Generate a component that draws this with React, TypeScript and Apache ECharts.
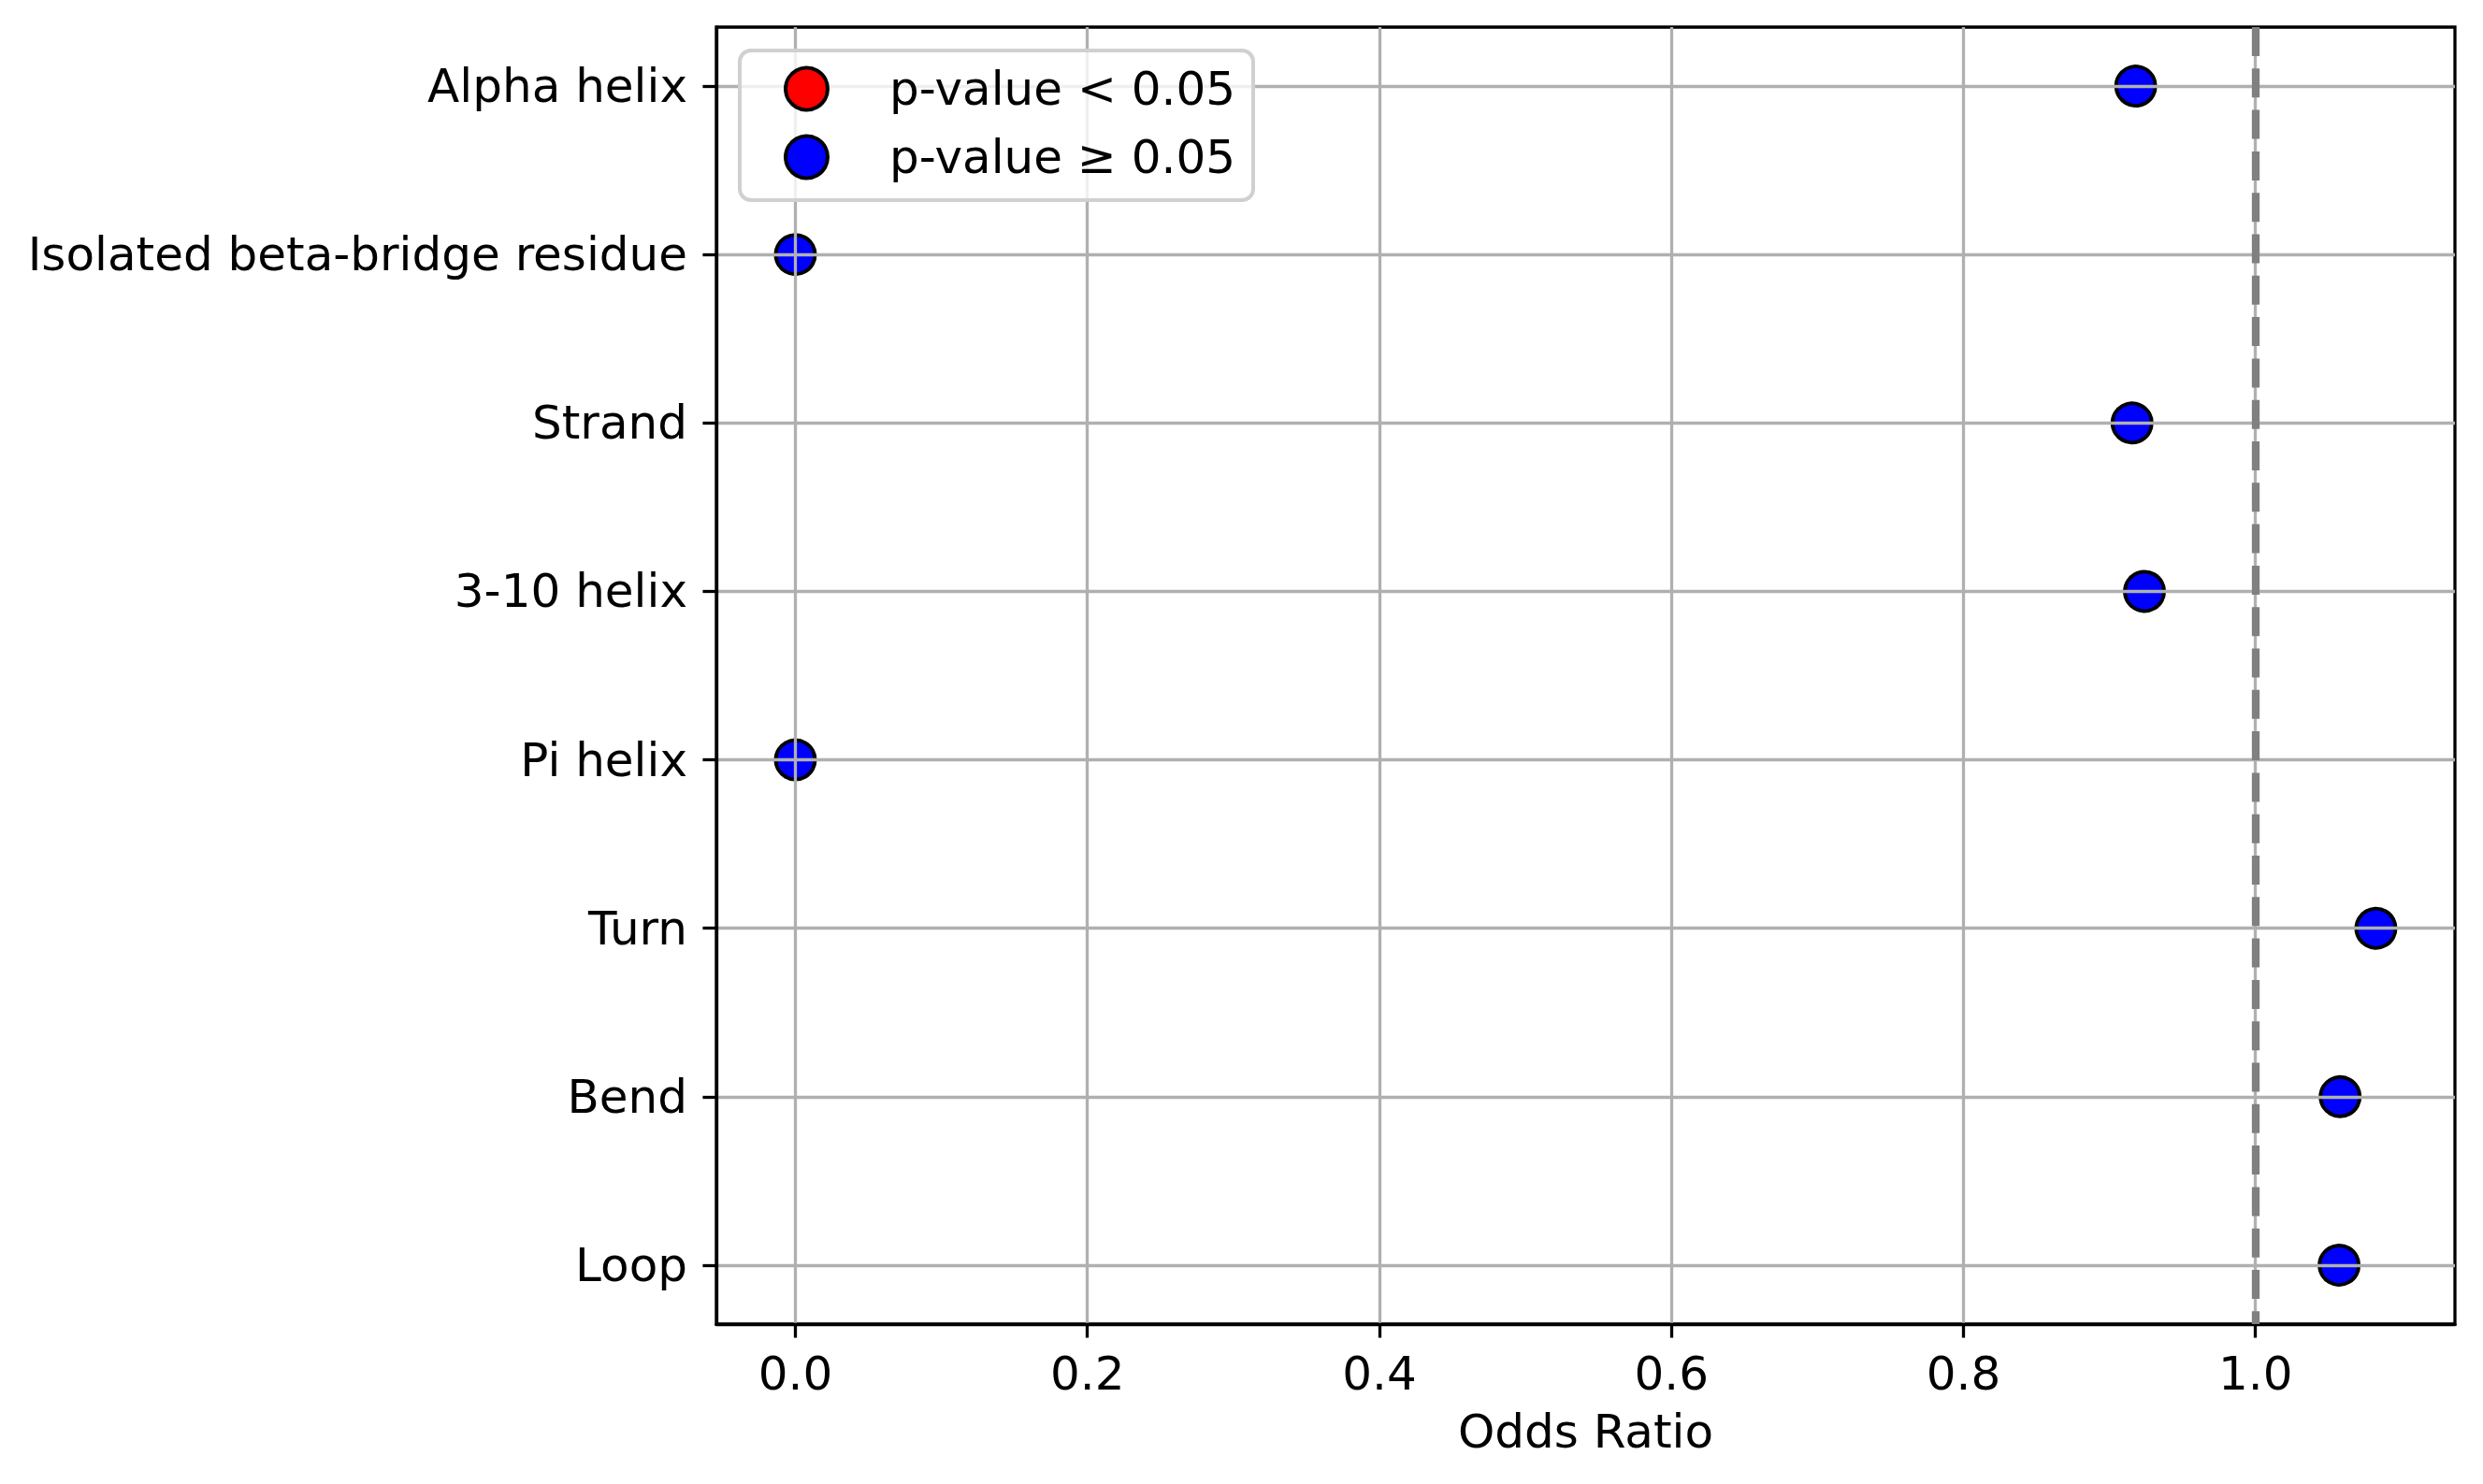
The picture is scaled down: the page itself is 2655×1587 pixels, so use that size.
import React, { useEffect, useRef } from "react";
import * as echarts from "echarts";

// ---- data ----
const categories = [
  "Alpha helix",
  "Isolated beta-bridge residue",
  "Strand",
  "3-10 helix",
  "Pi helix",
  "Turn",
  "Bend",
  "Loop",
];
const oddsRatios = [0.918, 0.0, 0.9155, 0.924, 0.0, 1.0825, 1.058, 1.0573];
const significant = [false, false, false, false, false, false, false, false];
const xTicks = [0, 0.2, 0.4, 0.6, 0.8, 1.0];
const legendLabels = ["p-value < 0.05", "p-value \u2265 0.05"];
const referenceOR = 1.0;
const xAxisTitle = "Odds Ratio";

const FONT = "DejaVu Sans";

export default function App() {
  const ref = useRef<HTMLDivElement>(null);

  useEffect(() => {
    if (!ref.current) return;
    const chart = echarts.init(ref.current, null, { renderer: "svg" });

    const dMin = Math.min(...oddsRatios);
    const dMax = Math.max(...oddsRatios);
    const span = dMax - dMin;
    const xMin = dMin - 0.05 * span;
    const xMax = dMax + 0.05 * span;
    const yIdx = categories.map((_, i) => i);
    const yMargin = 0.05 * (categories.length - 1);

    const sigData: number[][] = [];
    const nsData: number[][] = [];
    oddsRatios.forEach((v, i) => {
      (significant[i] ? sigData : nsData).push([v, i]);
    });

    const option: any = {
      animation: false,
      backgroundColor: "#ffffff",
      textStyle: { fontFamily: FONT },
      grid: {
        left: 766,
        right: 30,
        top: 29,
        bottom: 171,
        show: true,
        borderColor: "#000000",
        borderWidth: 3.3,
        backgroundColor: "transparent",
        containLabel: false,
      },
      legend: {
        orient: "vertical",
        left: 791,
        top: 54,
        padding: [16, 19, 21, 47],
        itemWidth: 45,
        itemHeight: 45,
        itemGap: 23,
        icon: "circle",
        backgroundColor: "rgba(255,255,255,0.8)",
        borderColor: "#d0d0d0",
        borderWidth: 4,
        borderRadius: 12,
        selectedMode: false,
        itemStyle: { borderColor: "#000000", borderWidth: 4 },
        textStyle: {
          fontSize: 50,
          fontFamily: FONT,
          color: "#000000",
          rich: { gap: { width: 61 } },
        },
        formatter: (name: string) => `{gap|}${name}`,
        data: legendLabels,
      },
      xAxis: {
        type: "value",
        min: xMin,
        max: xMax,
        name: xAxisTitle,
        nameLocation: "middle",
        nameGap: 90,
        nameTextStyle: { fontSize: 50, fontFamily: FONT, color: "#000000" },
        axisLine: { show: true, onZero: false, lineStyle: { color: "#000000", width: 3.3 } },
        axisTick: {
          show: true,
          length: 14.6,
          inside: false,
          customValues: xTicks,
          lineStyle: { color: "#000000", width: 3.3 },
        },
        axisLabel: {
          show: true,
          customValues: xTicks,
          margin: 28,
          fontSize: 50,
          fontFamily: FONT,
          color: "#000000",
          formatter: (v: number) => v.toFixed(1),
        },
        splitLine: { show: true, lineStyle: { color: "#b0b0b0", width: 3.3 } },
      },
      yAxis: {
        type: "value",
        inverse: true,
        min: -yMargin,
        max: categories.length - 1 + yMargin,
        axisLine: { show: true, onZero: false, lineStyle: { color: "#000000", width: 3.3 } },
        axisTick: {
          show: true,
          length: 14.6,
          customValues: yIdx,
          lineStyle: { color: "#000000", width: 3.3 },
        },
        axisLabel: {
          show: true,
          customValues: yIdx,
          margin: 31,
          fontSize: 50,
          fontFamily: FONT,
          color: "#000000",
          formatter: (v: number) => categories[Math.round(v)] ?? "",
        },
        splitLine: { show: true, lineStyle: { color: "#b0b0b0", width: 3.3 } },
      },
      series: [
        {
          name: legendLabels[0],
          type: "scatter",
          z: -1,
          symbol: "circle",
          symbolSize: 42,
          itemStyle: { color: "#ff0000", borderColor: "#000000", borderWidth: 4, opacity: 1 },
          data: sigData,
        },
        {
          name: legendLabels[1],
          type: "scatter",
          z: -1,
          symbol: "circle",
          symbolSize: 42,
          itemStyle: { color: "#0000ff", borderColor: "#000000", borderWidth: 4, opacity: 1 },
          data: nsData,
          markLine: {
            silent: true,
            symbol: ["none", "none"],
            label: { show: false },
            z: 5,
            lineStyle: { color: "#808080", width: 8.3, type: [31, 13.3], opacity: 1 },
            data: [{ xAxis: referenceOR }],
          },
        },
      ],
    };

    chart.setOption(option);
    return () => chart.dispose();
  }, []);

  return (
    <div
      ref={ref}
      style={{ position: "fixed", left: 0, top: 0, width: 2655, height: 1587, background: "#fff" }}
    />
  );
}
